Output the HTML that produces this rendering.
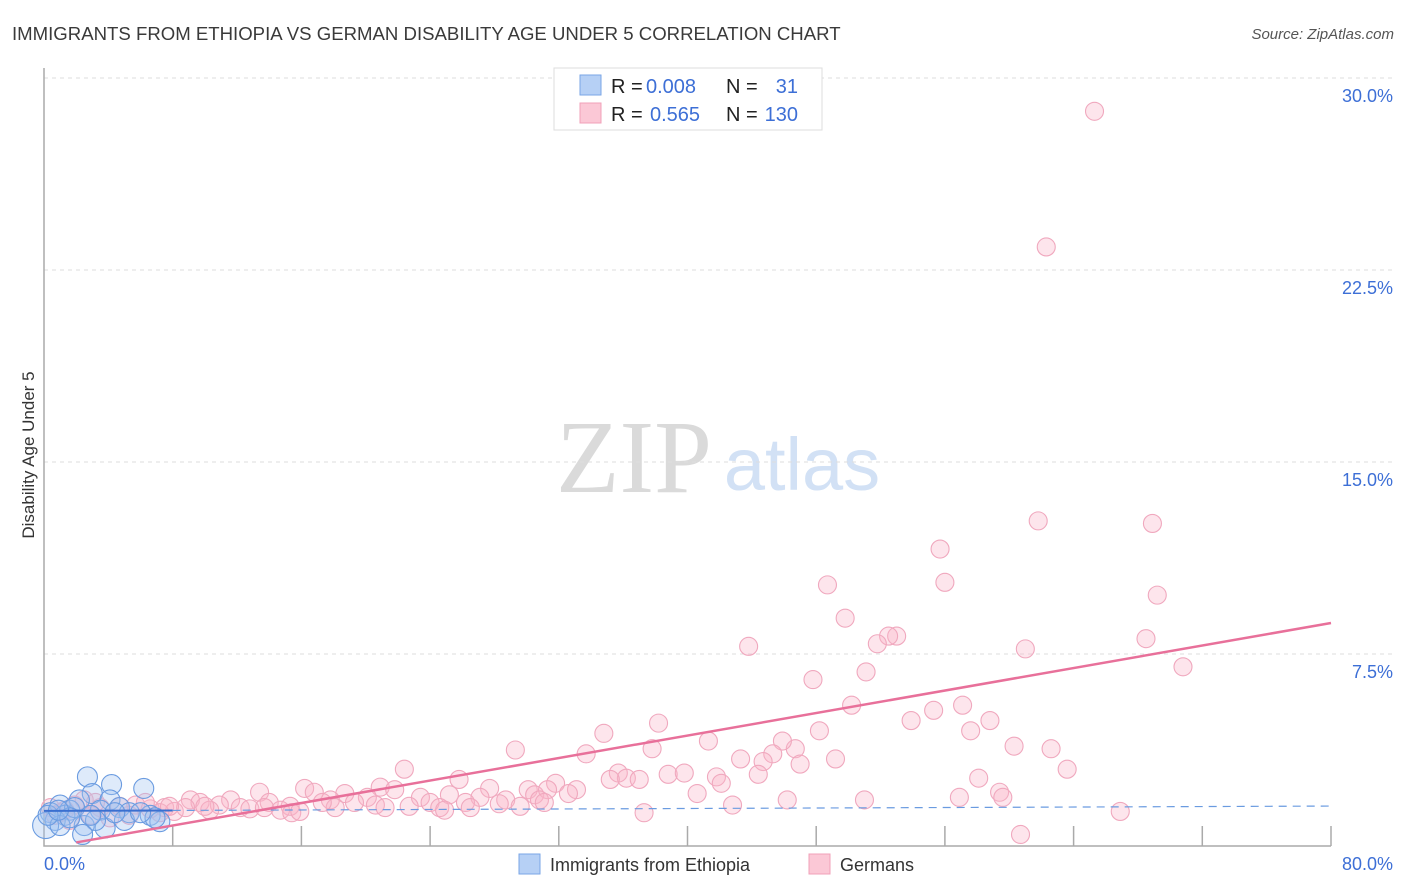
<!DOCTYPE html>
<html><head><meta charset="utf-8"><style>
body{margin:0;background:#fff;font-family:"Liberation Sans",sans-serif}
svg{display:block}
</style></head><body>
<svg width="1406" height="892" id="chart">
<text x="12" y="40" font-size="18.6" fill="#3a3a3a">IMMIGRANTS FROM ETHIOPIA VS GERMAN DISABILITY AGE UNDER 5 CORRELATION CHART</text>
<text x="1394" y="39" font-size="15" fill="#555" text-anchor="end" font-style="italic">Source: ZipAtlas.com</text>
<text x="634" y="492" font-size="104" fill="#dadada" font-family="Liberation Serif,serif" text-anchor="middle">ZIP</text>
<text x="802" y="490" font-size="74" fill="#d2e1f5" text-anchor="middle">atlas</text>
<g id="grid"></g>
<g id="marks"></g>
<text transform="translate(34,455) rotate(-90)" font-size="17" fill="#333" text-anchor="middle">Disability Age Under 5</text>
<text x="44" y="870" font-size="18" fill="#3d6fd6">0.0%</text>
<text x="1393" y="870" font-size="18" fill="#3d6fd6" text-anchor="end">80.0%</text>
<g font-size="20">
<rect x="554" y="68" width="268" height="62" fill="#fff" stroke="#ddd"/>
<rect x="580" y="75" width="21" height="20" fill="#b6d0f5" stroke="#7aa6e6"/>
<rect x="580" y="103" width="21" height="20" fill="#fbc8d6" stroke="#f0a0b8"/>
<text x="611" y="93" fill="#222">R =</text>
<text x="646" y="93" fill="#3d6fd6">0.008</text>
<text x="726" y="93" fill="#222">N =</text>
<text x="798" y="93" fill="#3d6fd6" text-anchor="end">31</text>
<text x="611" y="121" fill="#222">R =</text>
<text x="650" y="121" fill="#3d6fd6">0.565</text>
<text x="726" y="121" fill="#222">N =</text>
<text x="798" y="121" fill="#3d6fd6" text-anchor="end">130</text>
</g>
<g>
<rect x="519" y="854" width="21" height="20" fill="#b6d0f5" stroke="#7aa6e6"/>
<text x="550" y="871" font-size="18" fill="#333">Immigrants from Ethiopia</text>
<rect x="809" y="854" width="21" height="20" fill="#fbc8d6" stroke="#f0a0b8"/>
<text x="840" y="871" font-size="18" fill="#333">Germans</text>
</g>
</svg>
<script>
const yTicks=[7.5,15,22.5,30];
const yTickLabels=["7.5%","15.0%","22.5%","30.0%"];
const germansX=[65.3,62.3,61.8,68.9,55.7,48.7,56.0,69.2,49.8,53.0,52.5,51.8,68.5,43.8,61.0,70.8,51.1,47.8,50.2,38.2,53.9,55.3,57.1,58.8,34.8,57.6,48.2,41.3,29.3,60.3,62.6,37.8,46.7,45.9,33.7,43.3,45.3,49.2,44.7,47.0,63.6,22.4,35.7,38.8,39.8,25.8,41.8,58.1,44.4,36.2,31.8,27.7,30.1,30.5,35.2,42.1,40.6,33.1,31.3,32.6,37.0,13.4,11.6,16.2,16.8,18.7,20.9,20.1,21.8,23.4,25.2,27.1,28.7,30.8,59.4,59.6,56.9,46.2,51.0,42.8,37.3,66.9,60.7,9.1,9.7,10.9,12.2,14.0,15.3,17.8,19.3,20.6,22.7,24.0,24.6,26.2,26.5,28.3,1.9,2.5,3.5,4.7,5.7,6.6,7.5,8.1,8.8,10.3,12.8,14.7,15.4,18.1,1.0,0.4,1.6,2.9,4.1,5.3,7.2,0.7,1.3,3.2,6.3,7.8,10.0,13.7,15.9,17.3,21.2,24.9,29.6,31.1];
const germansY=[28.7,23.4,12.7,12.6,11.6,10.2,10.3,9.8,8.9,8.2,8.2,7.9,8.1,7.8,7.7,7.0,6.8,6.5,5.5,4.8,4.9,5.3,5.5,4.9,4.4,4.5,4.5,4.1,3.75,3.9,3.8,3.8,3.8,4.1,3.6,3.4,3.6,3.4,3.3,3.2,3.0,3.0,2.85,2.8,2.85,2.6,2.7,2.65,2.8,2.65,2.45,2.25,2.2,2.0,2.6,2.45,2.05,2.2,2.2,2.05,2.6,2.1,1.8,2.25,2.1,2.05,2.3,1.9,2.2,1.9,2.0,1.9,1.8,1.8,2.1,1.9,1.9,1.8,1.8,1.6,1.3,1.35,0.45,1.8,1.7,1.6,1.5,1.7,1.55,1.8,1.7,1.6,1.55,1.7,1.5,1.7,1.5,1.65,1.6,1.8,1.5,1.55,1.6,1.45,1.5,1.35,1.5,1.4,1.45,1.4,1.3,1.5,1.3,1.5,1.0,1.2,1.1,1.2,1.3,1.2,1.4,1.7,1.7,1.55,1.55,1.5,1.35,1.7,1.5,1.4,1.55,1.7];
const ethiopiaX=[2.7,4.2,6.2,3.0,4.1,2.2,1.0,1.6,0.4,1.3,0.7,0.1,1.9,3.5,4.7,5.3,6.6,7.2,6.9,2.5,3.8,3.2,2.4,1.0,1.6,5.0,6.0,4.4,0.25,0.9,2.9];
const ethiopiaY=[2.7,2.4,2.25,2.05,1.8,1.8,1.6,1.4,1.3,1.2,1.0,0.8,1.5,1.4,1.5,1.3,1.2,0.95,1.1,0.8,0.7,1.0,0.45,0.8,1.1,1.0,1.3,1.3,1.2,1.4,1.2];
const germansTrend=[-0.08,8.71];
const ethiopiaTrend=[1.37,1.56];
const NS='http://www.w3.org/2000/svg';
const X=v=>44+v*(1287/80), Y=v=>846-v*25.6;
function mk(t,a,p){const e=document.createElementNS(NS,t);for(const k in a)e.setAttribute(k,a[k]);p.appendChild(e);return e;}
const grid=document.getElementById('grid'),marks=document.getElementById('marks');
yTicks.forEach((t,i)=>{
 const l=mk('line',{x1:44,x2:1394,y1:Y(t),y2:Y(t),stroke:'#ddd','stroke-dasharray':'4,4'},grid);
 
 
 const tx=mk('text',{x:1393,y:Y(t)+24,'font-size':18,fill:'#3d6fd6','text-anchor':'end'},grid);
 tx.textContent=yTickLabels[i];
 
 
});
const ax=mk('path',{d:'M44,68V846H1331',stroke:'#aaa',fill:'none','stroke-width':1.5},grid);


for(let v=8;v<=80;v+=8){const t=mk('line',{x1:X(v),x2:X(v),y1:826,y2:846,stroke:'#aaa','stroke-width':1.5},grid);
 
 }
germansX.forEach((x,i)=>{const c=mk('circle',{cx:X(x),cy:Y(germansY[i]),r:9,fill:'rgba(248,180,200,0.35)',stroke:'#f0a8be','stroke-width':1.1},marks);
 
 });
ethiopiaX.forEach((x,i)=>{const c=mk('circle',{cx:X(x),cy:Y(ethiopiaY[i]),r:x<0.2?13:10,fill:'rgba(160,196,240,0.35)',stroke:'#6a9be0','stroke-width':1.1},marks);
 
 });
const bs=(ethiopiaTrend[1]-ethiopiaTrend[0])/80;
const b1=mk('line',{x1:X(0),y1:Y(ethiopiaTrend[0]),x2:X(8),y2:Y(ethiopiaTrend[0]+bs*8),stroke:'#3a6fd0','stroke-width':2},marks);


const b2=mk('line',{x1:X(8),y1:Y(ethiopiaTrend[0]+bs*8),x2:X(80),y2:Y(ethiopiaTrend[1]),stroke:'#6a9be0','stroke-width':1.2,'stroke-dasharray':'8,6'},marks);


const gs=(germansTrend[1]-germansTrend[0])/80;
const p=mk('line',{x1:X(2),y1:Y(germansTrend[0]+gs*2),x2:X(80),y2:Y(germansTrend[1]),stroke:'#e8709a','stroke-width':2.5},marks);


</script>
</body></html>
